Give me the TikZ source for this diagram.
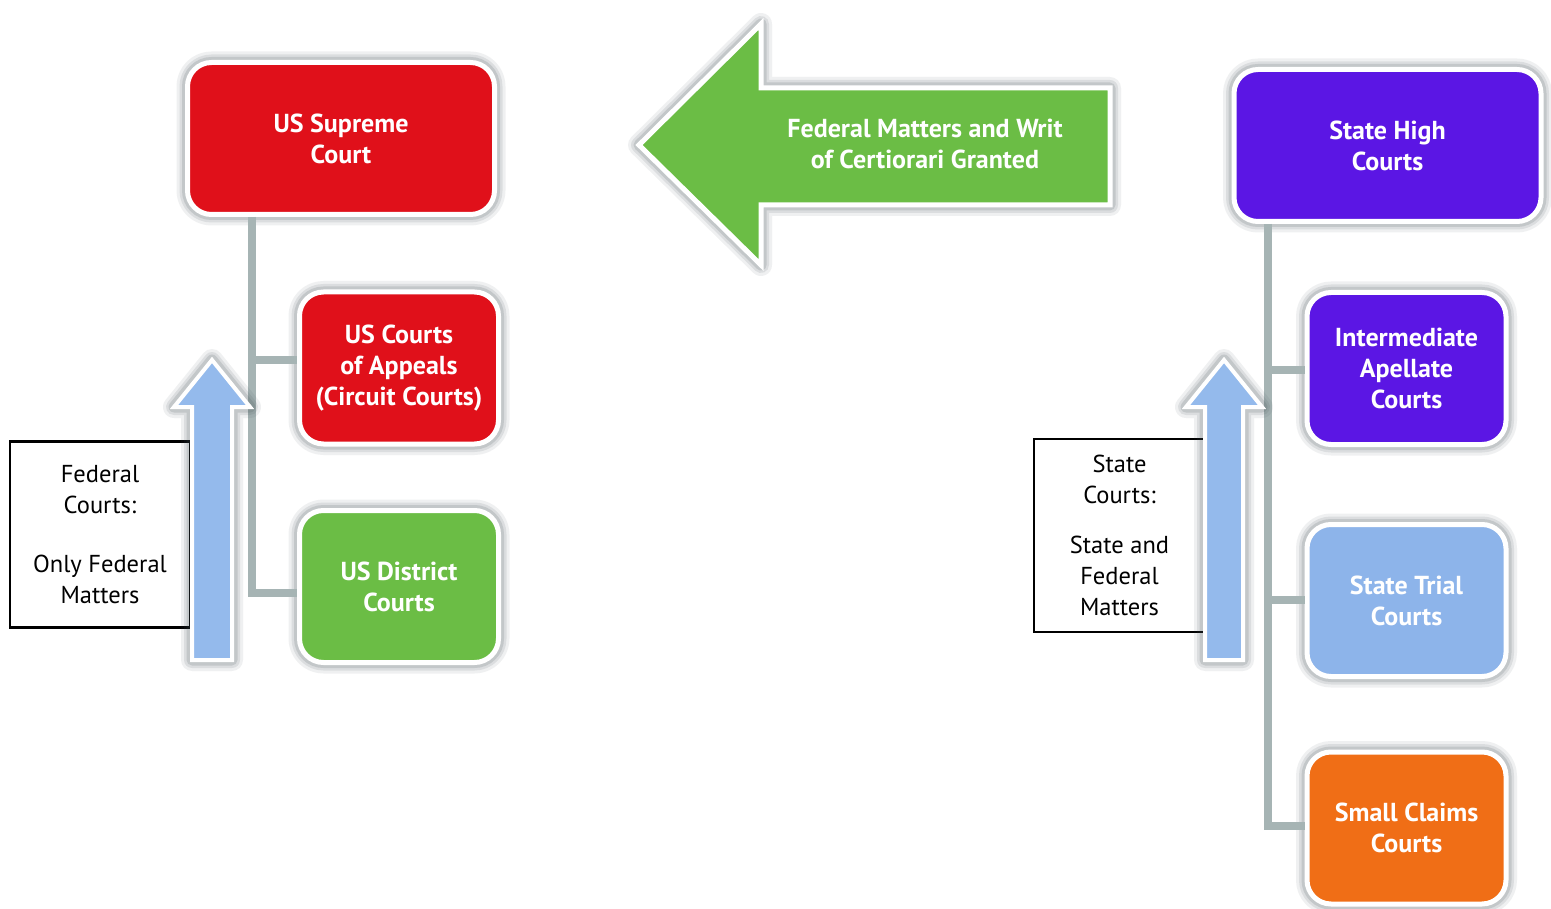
\documentclass[tikz,border=0pt]{standalone}
\usepackage{fontspec}
\setmainfont{PT Sans}
\definecolor{usred}{RGB}{224,16,26}
\definecolor{usgreen}{RGB}{107,189,69}
\definecolor{stpurple}{RGB}{91,22,228}
\definecolor{stblue}{RGB}{141,180,234}
\definecolor{storange}{RGB}{240,110,22}
\definecolor{upblue}{RGB}{148,186,236}
\definecolor{conngrey}{RGB}{166,180,180}
\definecolor{halo}{RGB}{60,75,80}
\begin{document}
\begin{tikzpicture}[x=1pt,y=-1pt,
  softshadow/.style={
    preaction={draw=halo,line width=22pt,draw opacity=0.08,line join=round},
    preaction={draw=halo,line width=16pt,draw opacity=0.11,line join=round},
    preaction={draw=halo,line width=11pt,draw opacity=0.15,line join=round}},
  court/.style={draw=white,line width=5pt,rounded corners=24pt,text=white,
    font=\bfseries\fontsize{26}{31}\selectfont,align=center,inner sep=0pt,softshadow},
  bigcourt/.style={court,minimum width=307pt,minimum height=152pt},
  smallcourt/.style={court,minimum width=199pt,minimum height=152pt},
  conn/.style={draw=conngrey,line width=8pt},
  lbl/.style={draw=black,line width=2.5pt,fill=white,align=center,inner sep=0pt,
    font=\fontsize{24.5}{31}\selectfont},
  uparrow/.style={fill=upblue,draw=white,line width=4pt,softshadow},
  bigarrow/.style={fill=usgreen,draw=white,line width=5pt,softshadow}
]
\useasboundingbox[fill=white] (0,0) rectangle (1551,909);

% ---------- federal side ----------
\coordinate (la) at (252,360);
\coordinate (lb) at (252,593);
\node[bigcourt,fill=usred] (sup) at (341,138.5) {US Supreme\\Court};
\node[smallcourt,fill=usred] (app) at (399,368) {US Courts\\of Appeals\\(Circuit Courts)};
\node[smallcourt,fill=usgreen] (dist) at (399,586.5) {US District\\Courts};
\draw[conn] (sup.south -| lb) -- (lb) -- (dist.west |- lb);
\draw[conn] (la) -- (app.west |- la);

\node[lbl,minimum width=180pt,minimum height=186pt] (fedlbl) at (100,534.5)
  {Federal\\Courts:\\[28pt]Only Federal\\Matters};
\draw[uparrow] (212,360) -- (250,407) -- (232,407) -- (232,660) -- (192,660)
  -- (192,407) -- (174,407) -- cycle;

% ---------- state side ----------
\coordinate (ra) at (1268,370);
\coordinate (rb) at (1268,600);
\coordinate (rc) at (1268,826);
\node[bigcourt,fill=stpurple] (high) at (1387.5,145.5) {State High\\Courts};
\node[smallcourt,fill=stpurple] (inter) at (1406.5,368.5) {Intermediate\\Apellate\\Courts};
\node[smallcourt,fill=stblue] (trial) at (1406.5,600.5) {State Trial\\Courts};
\node[smallcourt,fill=storange] (small) at (1406.5,828) {Small Claims\\Courts};
\draw[conn] (high.south -| rc) -- (rc) -- (small.west |- rc);
\draw[conn] (ra) -- (inter.west |- ra);
\draw[conn] (rb) -- (trial.west |- rb);

\node[lbl,minimum width=171pt,minimum height=193pt] (stlbl) at (1119.5,535.5)
  {State\\Courts:\\[19pt]State and\\Federal\\Matters};
\draw[uparrow] (1224,360) -- (1262,407) -- (1243,407) -- (1243,660) -- (1205,660)
  -- (1205,407) -- (1186,407) -- cycle;

% ---------- certiorari arrow ----------
\draw[bigarrow] (639,145) -- (761,24) -- (761,88) -- (1110,88) -- (1110,205)
  -- (761,205) -- (761,265) -- cycle;
\node[text=white,font=\bfseries\fontsize{26}{31}\selectfont,align=center] (cert) at (925,143.5)
  {Federal Matters and Writ\\of Certiorari Granted};
\end{tikzpicture}
\end{document}
